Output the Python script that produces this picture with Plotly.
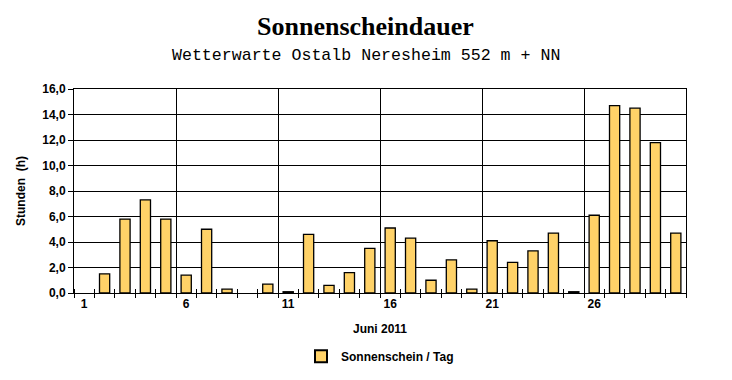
import plotly.graph_objects as go

days = list(range(1, 31))
sunshine = [None, 1.5, 5.8, 7.3, 5.8, 1.4, 5.0, 0.3, None, 0.7,
            0.1, 4.6, 0.6, 1.6, 3.5, 5.1, 4.3, 1.0, 2.6, 0.3,
            4.1, 2.4, 3.3, 4.7, 0.1, 6.1, 14.7, 14.5, 11.8, 4.7]
label_days = [1, 6, 11, 16, 21, 26]
label_text = [str(d) for d in label_days]
boundaries = [d + 0.5 for d in range(0, 31)]
week_bounds = [5.5, 10.5, 15.5, 20.5, 25.5]

title = "Sonnenscheindauer"
subtitle = "Wetterwarte Ostalb Neresheim 552 m + NN"
series_name = "Sonnenschein / Tag"

fig = go.Figure()
fig.add_trace(go.Bar(
    x=days, y=sunshine, name=series_name, width=0.5,
    marker=dict(color="#FFD060",
                line=dict(color="black", width=1.3),
                pattern=dict(shape=".", fgcolor="#FF9900", bgcolor="#FFF0A0",
                             size=2, solidity=0.7, fillmode="overlay")),
))
# invisible helper trace on overlay axis for week gridlines
fig.add_trace(go.Scatter(x=[0.5, 30.5], y=[0, 0], xaxis="x2", mode="lines",
                         line=dict(width=0), hoverinfo="skip", showlegend=False))

bold = dict(family="Liberation Sans", size=12, color="black", weight="bold")

fig.update_layout(
    width=724, height=372,
    margin=dict(l=66, r=46, t=81, b=87, autoexpand=False),
    paper_bgcolor="white", plot_bgcolor="white",
    separators=",.",
    showlegend=True,
    legend=dict(orientation="h", x=0.5, xanchor="center", y=-0.31, yanchor="middle",
                font=bold, itemsizing="constant"),
    font=dict(family="Liberation Sans", color="black"),
    xaxis=dict(range=[0.5, 30.5], tickmode="array", tickvals=label_days,
               ticktext=label_text, automargin=False,
               ticks="", tickfont=bold, showgrid=False, zeroline=False,
               showline=True, linecolor="black", linewidth=1, mirror=True,
               title=dict(text="Juni 2011", font=bold, standoff=14),
               minor=dict(tickmode="array", tickvals=boundaries, ticks="outside",
                          ticklen=4, tickcolor="black", tickwidth=1, showgrid=False)),
    xaxis2=dict(range=[0.5, 30.5], overlaying="x", side="bottom", automargin=False,
                tickmode="array", tickvals=week_bounds, showticklabels=False,
                ticks="", showgrid=True, gridcolor="black", gridwidth=1,
                zeroline=False, showline=False,
                minor=dict(tickmode="array", tickvals=boundaries, ticks="inside",
                           ticklen=4, tickcolor="black", tickwidth=1, showgrid=False)),
    yaxis=dict(range=[0, 16], dtick=2, tick0=0, tickformat=".1f", automargin=False,
               tickfont=bold, ticks="outside", ticklen=5, tickcolor="black",
               showgrid=True, gridcolor="black", gridwidth=1, zeroline=False,
               showline=True, linecolor="black", linewidth=1, mirror=True,
               title=dict(text="Stunden  (h)", font=bold, standoff=14)),
    annotations=[
        dict(text=f"<b>{title}</b>", xref="paper", yref="paper", x=0.477, y=1.0,
             yshift=46, xanchor="center", yanchor="bottom", showarrow=False,
             font=dict(family="Liberation Serif", size=26, color="black")),
        dict(text=subtitle, xref="paper", yref="paper", x=0.477, y=1.0,
             yshift=22, xanchor="center", yanchor="bottom", showarrow=False,
             font=dict(family="Liberation Mono", size=16.6, color="black")),
    ],
)

fig.write_html("out.html")
